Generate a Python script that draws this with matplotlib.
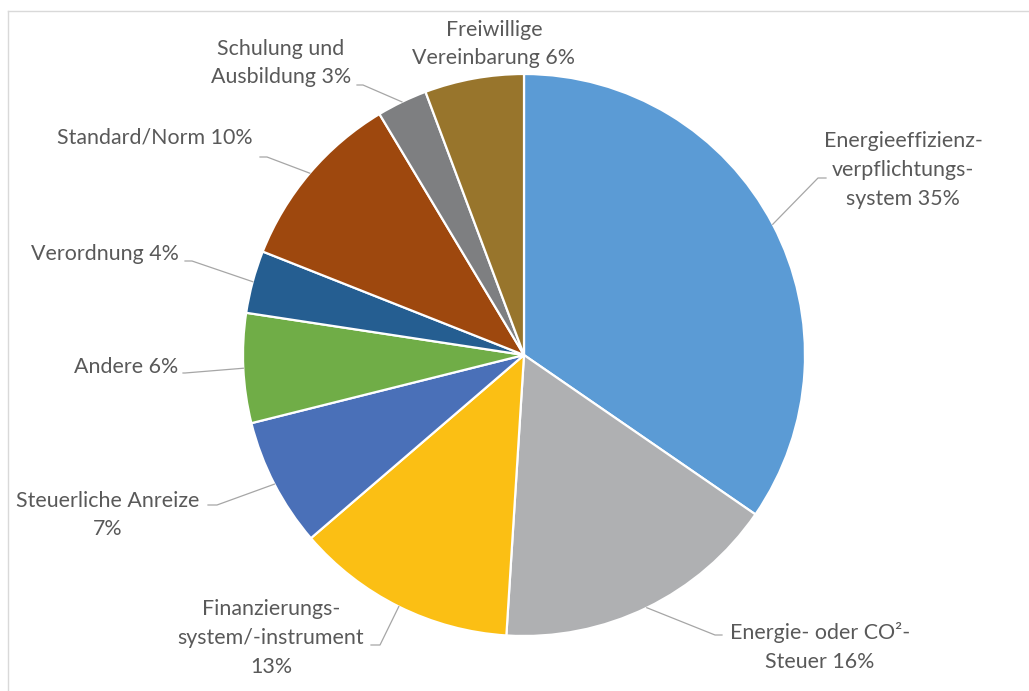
import matplotlib.pyplot as plt
from matplotlib.lines import Line2D
import numpy as np

labels = [
    "Energieeffizienz-\nverpflichtungs-\nsystem {}%",
    "Energie- oder CO²-\nSteuer {}%",
    "Finanzierungs-\nsystem/-instrument\n{}%",
    "Steuerliche Anreize\n{}%",
    "Andere {}%",
    "Verordnung {}%",
    "Standard/Norm {}%",
    "Schulung und\nAusbildung {}%",
    "Freiwillige\nVereinbarung {}%",
]
values = [34.6, 16.4, 12.7, 7.4, 6.3, 3.6, 10.4, 2.9, 5.7]
colors = ["#5B9BD5", "#AFB0B2", "#FBBF14", "#4A70B8", "#70AD47",
          "#255E91", "#9E480E", "#7E7F81", "#98752C"]

# pie geometry in pixels
W, H = 1029, 691
CX, CY, R = 524, 355, 281

def px(x, y):
    return (x - CX) / R, (CY - y) / R

# label centre (pixels) and leader elbow/end (pixels, None = no leader)
label_pos = [(903, 170), (820, 647), (271, 638), (108, 515), (126, 367),
             (105, 254), (155, 137), (281, 63), (494, 44)]
leaders = [((818, 178), (826, 178)), ((715, 635), (722, 635)),
           ((380, 645), (371, 645)), ((217, 505), (208, 505)),
           ((185, 373), (183, 373)), ((192, 261), (185, 261)),
           ((267, 157), (260, 157)), ((363, 85), (357, 85)), None]

fig = plt.figure(figsize=(W / 100, H / 100), dpi=100)
ax = fig.add_axes([0, 0, 1, 1])
wedges, _ = ax.pie(values, colors=colors, startangle=90, counterclock=False,
                   radius=1, center=(0, 0),
                   wedgeprops=dict(edgecolor="white", linewidth=1.6))
ax.set_xlim(-CX / R, (W - CX) / R)
ax.set_ylim((CY - H) / R, CY / R)
ax.set_aspect("equal")
ax.axis("off")

for w, lab, v, pos, ld in zip(wedges, labels, values, label_pos, leaders):
    tx, ty = px(*pos)
    ax.text(tx, ty, lab.format(round(v)), ha="center", va="center",
            fontsize=15.4, color="#595959", family=["Lato", "DejaVu Sans"],
            linespacing=1.55)
    if ld is None:
        continue
    mid = np.deg2rad((w.theta1 + w.theta2) / 2)
    sx, sy = np.cos(mid), np.sin(mid)
    ex, ey = px(*ld[0])
    fx, fy = px(*ld[1])
    ax.plot([sx, ex, fx], [sy, ey, fy], color="#A6A6A6", lw=0.9)

# chart frame
fig.add_artist(Line2D([8 / W, 8 / W], [0, 1 - 11 / H], color="#D9D9D9", lw=1))
fig.add_artist(Line2D([8 / W, 1], [1 - 11 / H, 1 - 11 / H], color="#D9D9D9", lw=1))

fig.savefig("out.png", dpi=100)
